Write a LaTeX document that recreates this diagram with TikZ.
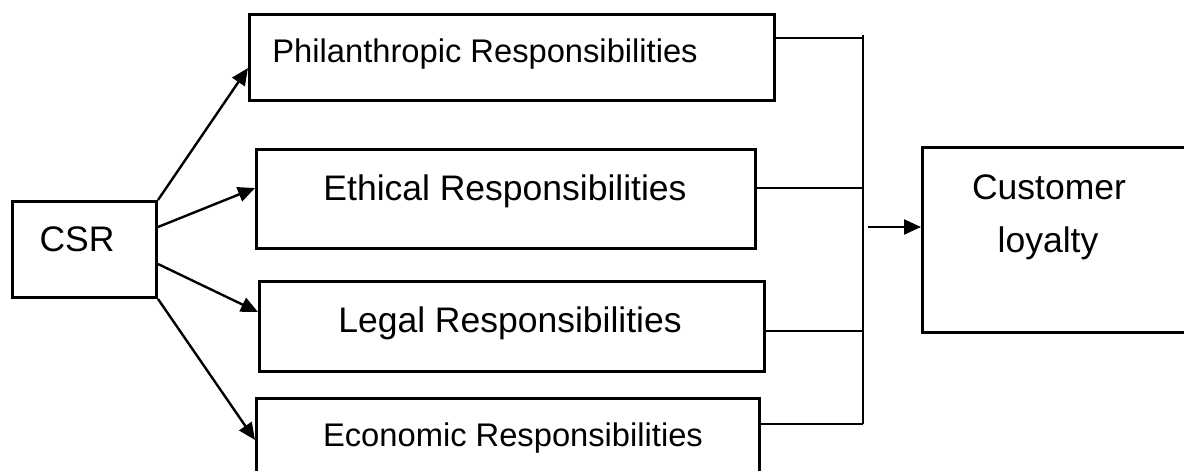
\documentclass[tikz,border=0pt]{standalone}
\usepackage{fontspec}
\setmainfont{Liberation Sans}
\usetikzlibrary{arrows.meta}
\begin{document}
\begin{tikzpicture}[x=0.5pt,y=-0.5pt,
  box/.style={draw,line width=1.5pt,inner sep=0pt,anchor=north west},
  lbl/.style={inner sep=0pt,anchor=base,font=\fontsize{17.75pt}{20pt}\selectfont},
  lblsmall/.style={lbl,font=\fontsize{16.35pt}{19pt}\selectfont},
  feed/.style={line width=1.2pt,-{Triangle[length=8.5pt,width=7.5pt]}},
  bus/.style={line width=0.7pt}]
\useasboundingbox (0,0) rectangle (1184,471);

% boxes
\node[box,minimum width=72pt,minimum height=48pt] (csr) at (11,200) {};
\node[box,minimum width=262.5pt,minimum height=43pt] (phil) at (248,13) {};
\node[box,minimum width=249.5pt,minimum height=49.5pt] (eth) at (255,148) {};
\node[box,minimum width=252.5pt,minimum height=45pt] (leg) at (258,280) {};
\node[box,minimum width=251.5pt,minimum height=45pt] (eco) at (255,397) {};
\node[box,minimum width=150pt,minimum height=92.5pt] (cust) at (921,146) {};

% labels
\node[lbl] (csrt) at (77,251) {CSR};
\node[lblsmall,anchor=base west] (philt) at (272,62) {Philanthropic Responsibilities};
\node[lbl] (etht) at (505,200) {Ethical Responsibilities};
\node[lbl] (legt) at (510,332) {Legal Responsibilities};
\node[lblsmall] (ecot) at (513,446) {Economic Responsibilities};
\node[lbl] (custt1) at (1049,199) {Customer};
\node[lbl] (custt2) at (1048,252) {loyalty};

% arrows from CSR to the four responsibilities
\draw[feed] (csr.north east) -- (phil.west |- 0,68);
\draw[feed] (csr.east |- 0,227) -- (eth.west |- 0,188);
\draw[feed] (csr.east |- 0,264) -- (leg.west |- 0,312);
\draw[feed] (csr.south east) -- (eco.west |- 0,440);

% collecting bus
\coordinate (j1) at (863,38);
\coordinate (j2) at (863,188);
\coordinate (j3) at (863,331);
\coordinate (j4) at (863,424);
\draw[bus] (j1 -| phil.east) -- (j1);
\draw[bus] (j2 -| eth.east) -- (j2);
\draw[bus] (j3 -| leg.east) -- (j3);
\draw[bus] (j4 -| eco.east) -- (j4);
\draw[bus] (863,35) -- (j4);

% arrow into customer loyalty
\coordinate (src) at (868,227);
\draw[feed] (src) -- (src -| cust.west);
\end{tikzpicture}
\end{document}
